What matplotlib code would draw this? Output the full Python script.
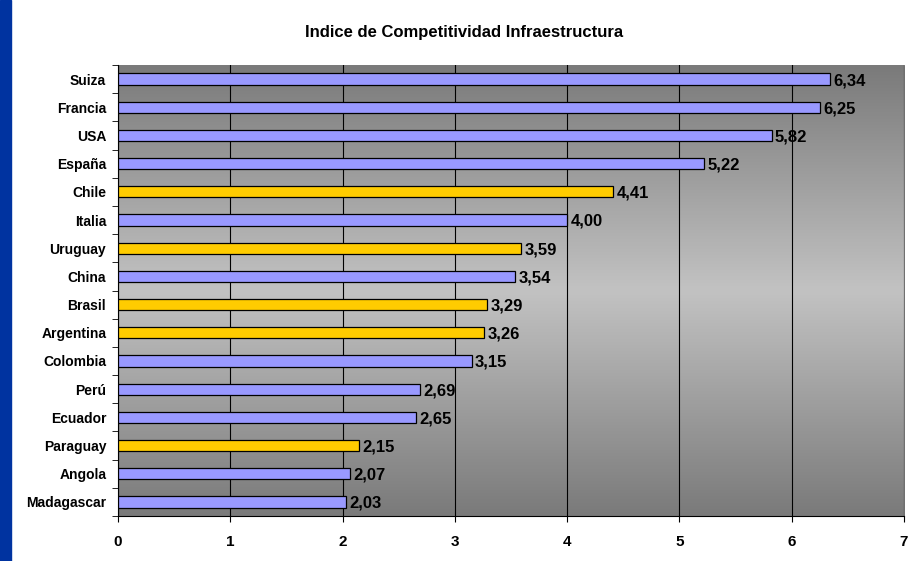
import matplotlib
matplotlib.use("Agg")
import matplotlib.pyplot as plt
import numpy as np
from matplotlib.patches import Rectangle

countries = ["Suiza", "Francia", "USA", "España", "Chile", "Italia", "Uruguay", "China",
             "Brasil", "Argentina", "Colombia", "Perú", "Ecuador", "Paraguay", "Angola", "Madagascar"]
values = [6.34, 6.25, 5.82, 5.22, 4.41, 4.00, 3.59, 3.54, 3.29, 3.26, 3.15, 2.69, 2.65, 2.15, 2.07, 2.03]
highlight = ["Chile", "Uruguay", "Brasil", "Argentina", "Paraguay"]
title = "Indice de Competitividad Infraestructura"

plt.rcParams['font.family'] = ['Liberation Sans', 'DejaVu Sans']

fig = plt.figure(figsize=(9.23, 5.61), dpi=100)
fig.patches.append(Rectangle((0, 0), 11/923, 1, transform=fig.transFigure, color="#0033A0", zorder=0))
ax = fig.add_axes([118/923, 1-516/561, (904-118)/923, (516-65)/561])

n = len(countries)
# gradient background
g = np.concatenate([np.linspace(0.48, 0.76, 50), np.linspace(0.76, 0.48, 50)])
grad = np.stack([g]*3, axis=-1)[:, None, :]
ax.imshow(grad, extent=[0, 7, -0.5, n-0.5], aspect='auto', zorder=0, interpolation='bilinear')

y = np.arange(n)[::-1]
colors = ["#FFCC00" if c in highlight else "#9999FF" for c in countries]
ax.barh(y, values, height=0.4, color=colors, edgecolor="black", linewidth=0.9, zorder=3)
for yi, v in zip(y, values):
    ax.text(v + 0.03, yi - 0.05, f"{v:.2f}".replace(".", ","), va="center", ha="left",
            fontsize=12, fontweight="bold", zorder=4)

ax.set_xlim(0, 7)
ax.set_ylim(-0.5, n-0.5)
ax.set_xticks(range(8))
ax.set_xticklabels([str(i) for i in range(8)], fontsize=11, fontweight="bold")
ax.set_yticks(y)
ax.set_yticklabels(countries, fontsize=10, fontweight="bold")
ax.set_yticks(np.arange(-0.5, n, 1), minor=True)
ax.tick_params(axis='y', which='major', length=0, pad=8.5)
ax.tick_params(axis='y', which='minor', length=4, direction='out')
ax.tick_params(axis='x', length=4, direction='out', pad=10)
ax.xaxis.grid(True, color="black", linewidth=0.8, zorder=1)
ax.set_axisbelow(True)
ax.spines["top"].set_visible(False)
ax.spines["right"].set_color("#555555")
ax.spines["right"].set_linewidth(0.6)
ax.spines["left"].set_linewidth(0.8)
ax.spines["bottom"].set_linewidth(0.8)

fig.text(464/923, 1-32/561, title, ha="center", va="center", fontsize=12, fontweight="bold")

fig.savefig("out.png", dpi=100)
